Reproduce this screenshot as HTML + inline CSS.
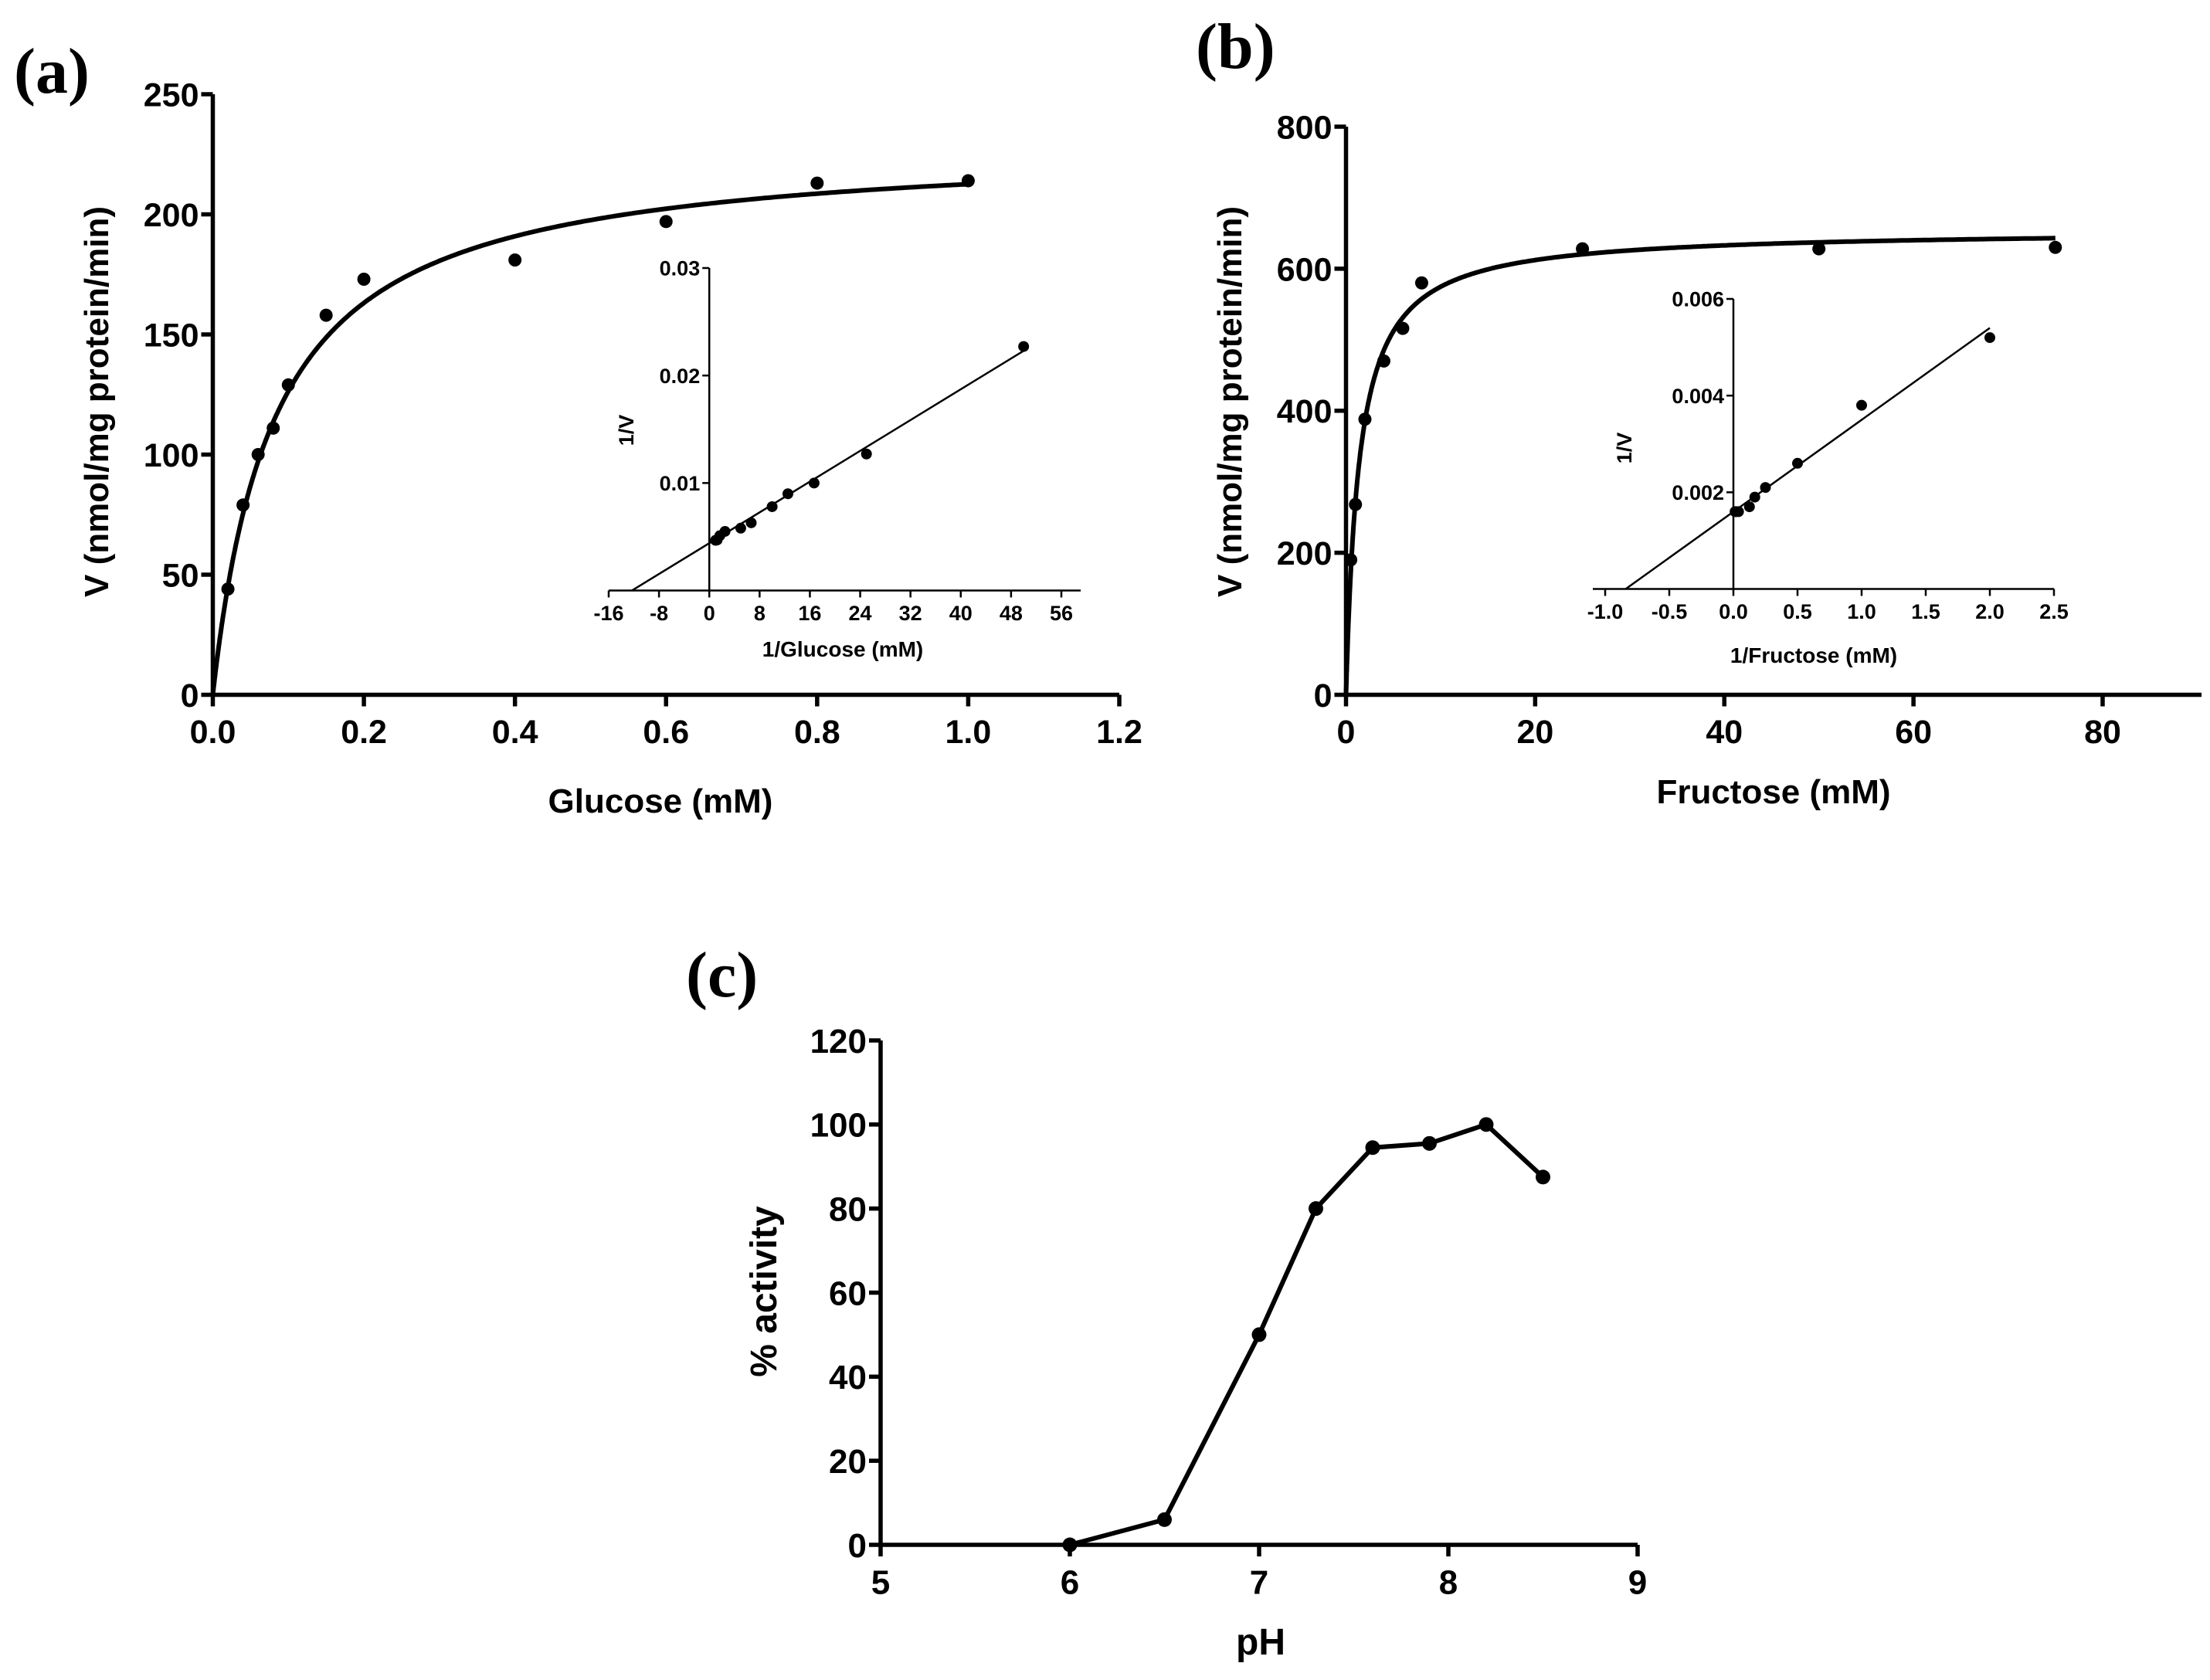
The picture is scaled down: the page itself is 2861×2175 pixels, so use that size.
<!DOCTYPE html>
<html><head><meta charset="utf-8"><style>
html,body{margin:0;padding:0;background:#fff;}
svg{display:block;font-family:"Liberation Sans",Arial,sans-serif;}
</style></head><body>
<svg id="fig" width="2861" height="2175" viewBox="0 0 2861 2175" xmlns="http://www.w3.org/2000/svg">
<text x="18" y="120" font-family="Liberation Serif,serif" font-weight="bold" font-size="84">(a)</text>
<text x="1548" y="88" font-family="Liberation Serif,serif" font-weight="bold" font-size="84">(b)</text>
<text x="888" y="1290" font-family="Liberation Serif,serif" font-weight="bold" font-size="84">(c)</text>
</svg>
<script>
// ---- Panel (a) data ----
const aX = [0.02,0.04,0.06,0.08,0.1,0.15,0.2,0.4,0.6,0.8,1.0];
const aV = [44,79,100,111,129,158,173,181,197,213,214];
const aVmax = [230];
const aKm = [0.082];
const aXTicks = [0,0.2,0.4,0.6,0.8,1.0,1.2];
const aYTicks = [0,50,100,150,200,250];
// inset a
const aiX = [1,1.25,1.67,2.5,5,6.67,10,12.5,16.67,25,50];
const aiY = [0.00467,0.0047,0.0051,0.0055,0.0058,0.0063,0.0078,0.009,0.01,0.0127,0.0227];
const aiLine = [-12.3,0,50,0.0223];
const aiXTicks = [-16,-8,0,8,16,24,32,40,48,56];
const aiYTicks = [0.01,0.02,0.03];
// ---- Panel (b) data ----
const bX = [0.5,1,2,4,6,8,25,50,75];
const bV = [190,268,388,470,516,580,628,628,630];
const bVmax = [655];
const bKm = [1.4];
const bXTicks = [0,20,40,60,80];
const bYTicks = [0,200,400,600,800];
const biX = [2,1,0.5,0.25,0.167,0.125,0.04,0.02,0.0133];
const biY = [0.0052,0.0038,0.0026,0.0021,0.0019,0.0017,0.0016,0.0016,0.0016];
const biLine = [-0.84,0,2.0,0.0054];
const biXTicks = [-1.0,-0.5,0.0,0.5,1.0,1.5,2.0,2.5];
const biYTicks = [0.002,0.004,0.006];
// ---- Panel (c) data ----
const cX = [6,6.5,7,7.3,7.6,7.9,8.2,8.5];
const cY = [0,6,50,80,94.5,95.5,100,87.5];
const cXTicks = [5,6,7,8,9];
const cYTicks = [0,20,40,60,80,100,120];

const svg = document.getElementById('fig');
const NS = 'http://www.w3.org/2000/svg';
function el(tag, attrs){const e=document.createElementNS(NS,tag);for(const k in attrs)e.setAttribute(k,attrs[k]);svg.appendChild(e);return e;}
function lin(d0,d1,r0,r1){return v=>r0+(v-d0)*(r1-r0)/(d1-d0);}
function txt(x,y,s,size,anchor,name,rot){
  const t=el('text',{x:x,y:y,'font-size':size,'font-weight':'bold','text-anchor':anchor||'middle'});
  if(rot) t.setAttribute('transform','rotate(-90 '+x+' '+y+')');
  t.textContent=s;
  
  
  return t;
}
function fmt(v,d){return v.toFixed(d);}

function axes(o){
  const xa=el('line',{x1:o.xStart,y1:o.y0px,x2:o.xEnd,y2:o.y0px,stroke:'#000','stroke-width':o.sw});
  
  
  const ya=el('line',{x1:o.x0px,y1:o.yBottom,x2:o.x0px,y2:o.yTop,stroke:'#000','stroke-width':o.sw});
  
  
  o.xTicks.forEach(v=>{
    const x=o.sx(v);
    const tk=el('line',{x1:x,y1:o.y0px,x2:x,y2:o.y0px+o.tl,stroke:'#000','stroke-width':o.sw});
    
    
    txt(x,o.y0px+o.tl+o.fs*o.xoff,fmt(v,o.decX),o.fs,'middle',o.prefix+'-x-tick-label');
  });
  o.yTicks.forEach(v=>{
    const y=o.sy(v);
    const tk=el('line',{x1:o.x0px-o.tl,y1:y,x2:o.x0px,y2:y,stroke:'#000','stroke-width':o.sw});
    
    
    txt(o.x0px-o.tl-3,y+o.fs*0.36,fmt(v,o.decY),o.fs,'end',o.prefix+'-y-tick-label');
  });
}
function dots(xs,ys,sx,sy,r,name){
  xs.forEach((v,i)=>{
    const c=el('circle',{cx:sx(v),cy:sy(ys[i]),r:r,fill:'#000'});
    
    
  });
}
function mmCurve(sx,sy,vmax,km,xmax,sw,name){
  let d='';
  for(let i=0;i<=400;i++){const x=xmax*Math.pow(i/400,2);const y=vmax*x/(km+x);d+=(i?'L':'M')+sx(x).toFixed(1)+','+sy(y).toFixed(1);}
  const p=el('path',{d:d,fill:'none',stroke:'#000','stroke-width':sw});
  
  
}
function seg(sx,sy,L,sw,name){
  const l=el('line',{x1:sx(L[0]),y1:sy(L[1]),x2:sx(L[2]),y2:sy(L[3]),stroke:'#000','stroke-width':sw});
  
  
}

// ===== Panel A =====
{
  const sx=lin(0,1.2,275.5,1449), sy=lin(0,250,899.5,122);
  axes({sx,sy,x0px:275.5,y0px:899.5,xStart:275.5,xEnd:1449,yBottom:899.5,yTop:122,xTicks:aXTicks,yTicks:aYTicks,sw:5.5,tl:15,fs:43,xoff:1.1,decX:1,decY:0,prefix:'a'});
  mmCurve(sx,sy,aVmax[0],aKm[0],1.0,6,'a-fit-curve');
  dots(aX,aV,sx,sy,8.5,'a-data-point');
  txt(855,1052,'Glucose (mM)',44,'middle','a-x-axis-title');
  txt(140,520,'V (nmol/mg protein/min)',44,'middle','a-y-axis-title',true);
  const ix=lin(-16,56,788,1374), iy=lin(0,0.03,764.5,347);
  axes({sx:ix,sy:iy,x0px:ix(0),y0px:764.5,xStart:788,xEnd:1399,yBottom:764.5,yTop:347,xTicks:aiXTicks,yTicks:aiYTicks,sw:2.5,tl:9,fs:27,xoff:1.1,decX:0,decY:2,prefix:'a-inset'});
  seg(ix,iy,aiLine,2.5,'a-inset-fit-line');
  dots(aiX,aiY,ix,iy,7,'a-inset-point');
  txt(1091,850,'1/Glucose (mM)',28,'middle','a-inset-x-title');
  txt(820,557,'1/V',27,'middle','a-inset-y-title',true);
}
// ===== Panel B =====
{
  const sx=lin(0,80,1742.5,2722), sy=lin(0,800,899.5,164);
  axes({sx,sy,x0px:1742.5,y0px:899.5,xStart:1742.5,xEnd:2850,yBottom:899.5,yTop:164,xTicks:bXTicks,yTicks:bYTicks,sw:5.5,tl:15,fs:43,xoff:1.1,decX:0,decY:0,prefix:'b'});
  mmCurve(sx,sy,bVmax[0],bKm[0],75,6,'b-fit-curve');
  dots(bX,bV,sx,sy,8.5,'b-data-point');
  txt(2296,1040,'Fructose (mM)',44,'middle','b-x-axis-title');
  txt(1607,520,'V (nmol/mg protein/min)',44,'middle','b-y-axis-title',true);
  const ix=lin(-1,2.5,2078,2659), iy=lin(0,0.006,762.5,387);
  axes({sx:ix,sy:iy,x0px:ix(0),y0px:762.5,xStart:2062,xEnd:2659,yBottom:762.5,yTop:387,xTicks:biXTicks,yTicks:biYTicks,sw:2.5,tl:9,fs:27,xoff:1.1,decX:1,decY:3,prefix:'b-inset'});
  seg(ix,iy,biLine,2.5,'b-inset-fit-line');
  dots(biX,biY,ix,iy,7,'b-inset-point');
  txt(2348,858,'1/Fructose (mM)',28,'middle','b-inset-x-title');
  txt(2112,580,'1/V',27,'middle','b-inset-y-title',true);
}
// ===== Panel C =====
{
  const sx=lin(5,9,1140,2120), sy=lin(0,120,2000,1347);
  axes({sx,sy,x0px:1140,y0px:2000,xStart:1140,xEnd:2120,yBottom:2000,yTop:1347,xTicks:cXTicks,yTicks:cYTicks,sw:5.5,tl:15,fs:44,xoff:1.1,decX:0,decY:0,prefix:'c'});
  let d='';
  cX.forEach((v,i)=>{d+=(i?'L':'M')+sx(v)+','+sy(cY[i]);});
  const p=el('path',{d:d,fill:'none',stroke:'#000','stroke-width':6,'stroke-linejoin':'round'});
  
  
  dots(cX,cY,sx,sy,9.5,'c-data-point');
  txt(1632,2142,'pH',48,'middle','c-x-axis-title');
  txt(1005,1672,'% activity',48,'middle','c-y-axis-title',true);
}
</script>
</body></html>
